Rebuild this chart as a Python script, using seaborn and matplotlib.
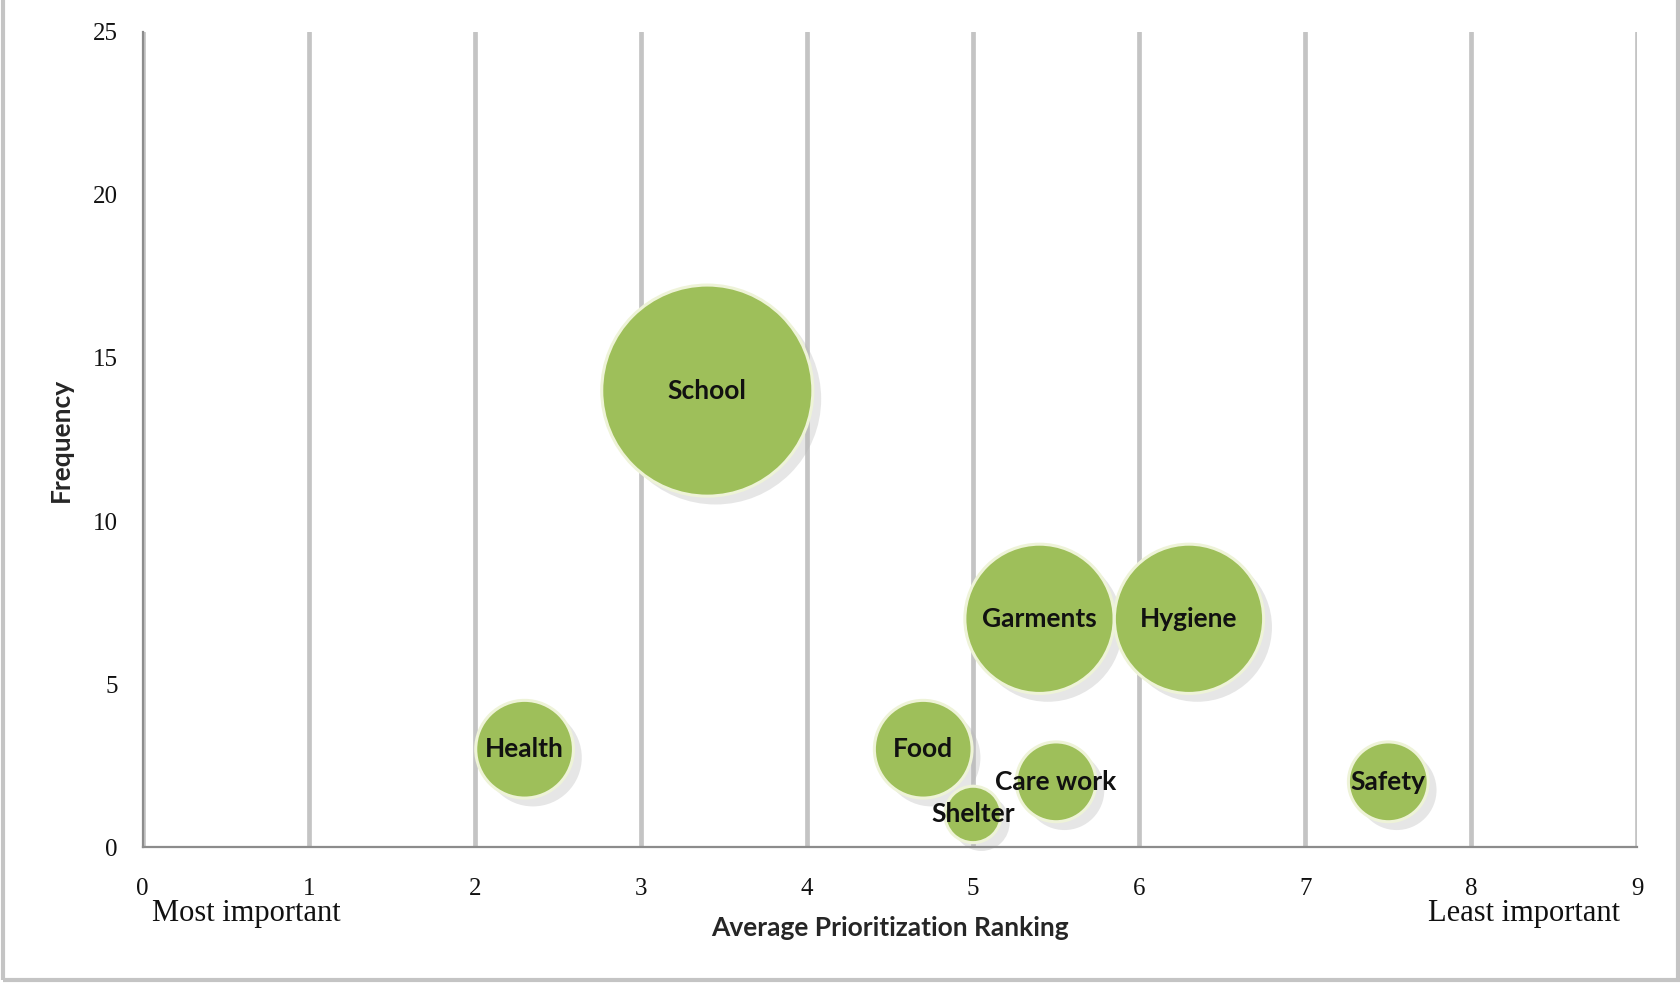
import matplotlib
matplotlib.use("Agg")
import matplotlib.pyplot as plt
import matplotlib.transforms as mtransforms
import seaborn as sns
import pandas as pd

# bubble data
needs = ["School", "Garments", "Hygiene", "Health", "Food", "Care work", "Safety", "Shelter"]
ranking = [3.4, 5.4, 6.3, 2.3, 4.7, 5.5, 7.5, 5.0]
frequency = [14, 7, 7, 3, 3, 2, 2, 1]

df = pd.DataFrame({"need": needs, "rank": ranking, "freq": frequency})

sns.set_style("white")

fig = plt.figure(figsize=(16.81, 9.84), dpi=100)
ax = fig.add_axes([0.0848, 0.1392, 0.8893, 0.8283])

# bubble area proportional to frequency (Excel style)
k = 1650
size_kw = dict(size="freq", sizes=(k * min(frequency), k * max(frequency)),
               size_norm=(min(frequency), max(frequency)), legend=False)

# soft drop shadow under the bubbles
sns.scatterplot(data=df, x="rank", y="freq", color="#b8b8b8", alpha=0.35,
                linewidth=0, ax=ax, zorder=2, clip_on=False, **size_kw)
shadow = ax.collections[-1]
shadow.set_transform(shadow.get_transform() + mtransforms.ScaledTranslation(
    3 / 72, -3 / 72, fig.dpi_scale_trans))
shadow.set_offset_transform(shadow.get_offset_transform() + mtransforms.ScaledTranslation(
    3 / 72, -3 / 72, fig.dpi_scale_trans))

sns.scatterplot(data=df, x="rank", y="freq", color="#9ebf5a", edgecolor="#eef3d8",
                linewidth=2.2, ax=ax, zorder=3, clip_on=False, **size_kw)

for _, row in df.iterrows():
    ax.text(row["rank"], row["freq"], row["need"], ha="center", va="center",
            fontsize=19, fontweight="bold", family="Lato", color="#111111", zorder=4)

ax.set_xlim(0, 9)
ax.set_ylim(0, 25)
ax.set_xticks(range(0, 10))
ax.set_yticks(range(0, 26, 5))

# vertical gridlines only
ax.grid(False)
ax.xaxis.grid(True, color="#c4c4c4", linewidth=3.4, zorder=0)
ax.set_axisbelow(True)

for side in ["top", "right"]:
    ax.spines[side].set_visible(False)
for side in ["left", "bottom"]:
    ax.spines[side].set_color("#8c8c8c")
    ax.spines[side].set_linewidth(1.6)

ax.tick_params(axis="both", direction="out", length=6, width=1.2, color="#9a9a9a",
               labelsize=18, labelcolor="#111111")
ax.tick_params(axis="x", pad=16)
ax.tick_params(axis="y", pad=12)
for lab in ax.get_xticklabels() + ax.get_yticklabels():
    lab.set_family("Liberation Serif")

ax.set_xlabel("Average Prioritization Ranking", fontsize=19, fontweight="bold",
              family="Lato", labelpad=12)
ax.set_ylabel("Frequency", fontsize=19, fontweight="bold", family="Lato", labelpad=14)

ax.text(0.006, -0.082, "Most important", transform=ax.transAxes, ha="left", va="center",
        fontsize=22, family="Liberation Serif", color="#111111")
ax.text(0.988, -0.082, "Least important", transform=ax.transAxes, ha="right", va="center",
        fontsize=22, family="Liberation Serif", color="#111111")

# light grey frame around the chart area
frame = plt.Rectangle((0.002, 0.004), 0.9965, 1.2, transform=fig.transFigure,
                      fill=False, edgecolor="#c4c4c4", linewidth=3)
fig.add_artist(frame)

fig.savefig("out.png", dpi=100, facecolor="white")
